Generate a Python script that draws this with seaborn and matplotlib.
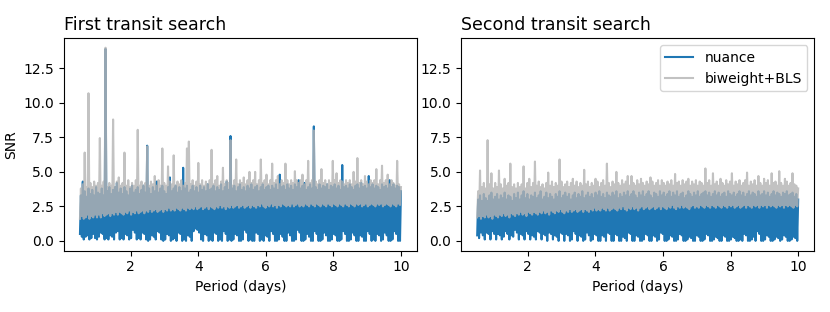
import numpy as np
import matplotlib
matplotlib.use("Agg")
import matplotlib.pyplot as plt
import seaborn as sns

# Period grid of the search (days): 170 trough/peak pairs per curve
periods = np.linspace(0.5, 10, 340)

# First transit search - nuance SNR (troughs and peaks)
nuance_1_low = [0.5, 0.3, 0.1, 0.3, 0.4, 0.1, 0.2, 0.5, 0.2, 0.1,
                0.3, 0.6, 0.5, 0.1, 0.2, 0.1, 0.4, 0.3, 0.1, 0.6,
                0.7, 0.1, 0.2, 0.1, 0.5, 0.4, 0.1, 0.2, 0.8, 0.6,
                0.1, 0.2, 0.1, 0.6, 0.5, 0.1, 0.0, 0.1, 0.4, 0.3,
                0.1, 0.7, 0.6, 0.1, 0.0, 0.1, 0.5, 0.4, 0.0, 0.1,
                0.2, 0.0, 0.6, 0.5, 0.0, 0.1, 0.0, 0.4, 0.3, 0.0,
                0.7, 0.9, 0.8, 0.6, 0.1, 0.0, 0.5, 0.4, 0.0, 0.1,
                0.0, 0.6, 0.5, 0.0, 0.1, 0.0, 0.7, 0.5, 0.0, 0.1,
                0.0, 0.1, 0.5, 0.4, 0.0, 0.0, 0.1, 0.8, 0.6, 0.0,
                0.1, 0.0, 0.0, 0.6, 0.5, 0.0, 0.1, 0.0, 0.4, 0.3,
                0.0, 0.7, 0.5, 0.0, 0.0, 0.1, 0.5, 0.3, 0.0, 0.0,
                0.6, 0.4, 0.0, 0.0, 0.1, 0.8, 0.6, 0.0, 0.0, 0.1,
                0.5, 0.3, 0.0, 0.0, 0.7, 0.5, 0.0, 0.0, 0.1, 0.6,
                0.4, 0.0, 0.0, 0.1, 0.5, 0.4, 0.0, 0.0, 0.1, 0.7,
                0.5, 0.0, 0.0, 0.1, 0.6, 0.4, 0.0, 0.0, 0.4, 0.3,
                0.0, 0.0, 0.7, 0.5, 0.0, 0.1, 0.0, 0.5, 0.4, 0.0,
                0.1, 0.6, 0.4, 0.0, 0.0, 0.1, 0.7, 0.5, 0.0, 0.0]
nuance_1_high = [3.3, 4.3, 3.6, 3.2, 3.8, 3.4, 3.7, 3.3, 3.9, 3.5,
                 3.4, 3.8, 3.3, 13.9, 3.6, 3.9, 3.4, 3.7, 3.9, 4.2,
                 3.5, 3.8, 3.4, 3.9, 3.6, 3.3, 3.8, 4.0, 3.5, 3.7,
                 3.9, 3.4, 3.7, 4.0, 3.5, 6.9, 3.8, 3.4, 3.9, 3.6,
                 4.3, 3.5, 3.8, 4.0, 3.6, 3.4, 3.9, 4.6, 3.6, 3.8,
                 4.0, 3.5, 3.9, 3.6, 5.3, 3.8, 4.0, 3.5, 3.7, 4.0,
                 3.6, 3.9, 3.5, 4.0, 3.7, 3.9, 3.6, 4.1, 3.7, 3.8,
                 4.0, 3.6, 3.9, 3.7, 4.1, 3.6, 3.9, 4.3, 3.7, 7.6,
                 3.8, 4.0, 3.6, 3.9, 4.1, 3.7, 3.9, 3.6, 4.0, 3.8,
                 4.1, 3.7, 3.9, 4.0, 3.6, 3.9, 4.1, 3.7, 3.9, 4.0,
                 3.7, 4.0, 3.8, 4.1, 3.7, 4.8, 3.9, 4.0, 3.7, 4.1,
                 3.8, 4.0, 3.7, 4.1, 3.9, 4.4, 3.8, 4.0, 4.2, 3.7,
                 3.9, 4.1, 3.8, 8.3, 3.9, 3.7, 4.1, 3.8, 4.0, 3.9,
                 4.1, 3.7, 4.0, 3.9, 4.1, 3.8, 4.0, 3.7, 5.5, 3.9,
                 4.0, 3.8, 4.1, 3.9, 3.7, 4.0, 4.1, 3.8, 4.2, 3.9,
                 4.0, 3.8, 4.7, 3.9, 4.1, 3.8, 4.0, 3.9, 3.7, 4.1,
                 3.9, 4.0, 3.8, 4.4, 3.9, 4.1, 3.8, 4.0, 3.9, 3.6]

# First transit search - biweight+BLS SNR
bls_1_low = [1.6, 1.8, 1.6, 1.7, 1.9, 1.6, 1.8, 1.7, 1.9, 1.7,
             1.9, 1.7, 2.0, 1.8, 1.9, 2.0, 1.8, 2.0, 1.9, 2.1,
             1.9, 2.1, 2.0, 1.9, 2.1, 2.0, 2.2, 1.9, 2.1, 2.0,
             2.2, 2.0, 2.1, 2.2, 2.0, 2.2, 2.1, 2.3, 2.1, 2.2,
             2.3, 2.1, 2.2, 2.3, 2.1, 2.3, 2.2, 2.4, 2.2, 2.3,
             2.2, 2.4, 2.3, 2.2, 2.4, 2.3, 2.2, 2.4, 2.3, 2.4,
             2.3, 2.5, 2.3, 2.4, 2.5, 2.3, 2.4, 2.5, 2.3, 2.5,
             2.4, 2.3, 2.5, 2.4, 2.6, 2.4, 2.5, 2.3, 2.5, 2.4,
             2.6, 2.4, 2.5, 2.6, 2.4, 2.5, 2.6, 2.4, 2.5, 2.6,
             2.4, 2.6, 2.5, 2.4, 2.6, 2.5, 2.7, 2.5, 2.4, 2.6,
             2.5, 2.7, 2.5, 2.6, 2.4, 2.6, 2.5, 2.7, 2.6, 2.5,
             2.6, 2.5, 2.7, 2.5, 2.6, 2.7, 2.5, 2.6, 2.5, 2.7,
             2.6, 2.5, 2.7, 2.6, 2.5, 2.7, 2.6, 2.5, 2.7, 2.6,
             2.5, 2.7, 2.6, 2.5, 2.7, 2.6, 2.5, 2.7, 2.6, 2.5,
             2.7, 2.6, 2.5, 2.7, 2.6, 2.5, 2.7, 2.6, 2.7, 2.5,
             2.6, 2.7, 2.5, 2.6, 2.7, 2.6, 2.5, 2.7, 2.6, 2.7,
             2.5, 2.6, 2.7, 2.6, 2.5, 2.7, 2.6, 2.5, 2.7, 2.6]
bls_1_high = [3.8, 4.1, 6.4, 3.9, 10.7, 4.2, 3.9, 4.3, 4.0, 4.2,
              7.45, 4.0, 4.3, 14.0, 3.9, 4.2, 4.0, 8.8, 3.9, 4.3,
              4.6, 4.0, 4.2, 6.4, 4.0, 4.4, 3.9, 4.2, 4.0, 4.4,
              8.05, 4.0, 4.3, 4.0, 4.2, 6.85, 4.0, 4.3, 4.1, 4.7,
              4.0, 4.4, 4.0, 6.7, 4.2, 4.0, 5.4, 4.3, 4.1, 6.2,
              4.0, 4.3, 4.1, 4.4, 4.0, 4.2, 6.7, 7.2, 4.1, 4.4,
              4.0, 4.3, 5.65, 4.1, 4.4, 4.0, 4.3, 4.1, 4.4, 6.6,
              4.1, 4.4, 4.7, 4.0, 4.3, 5.3, 4.1, 4.4, 4.2, 7.3,
              4.0, 4.4, 5.9, 4.1, 4.4, 4.2, 4.6, 4.1, 4.4, 5.0,
              4.2, 4.4, 5.0, 4.1, 4.4, 5.9, 4.2, 4.4, 4.8, 4.1,
              4.4, 5.6, 4.2, 4.4, 4.7, 4.1, 4.4, 4.2, 5.6, 4.4,
              4.1, 4.4, 4.2, 5.05, 4.4, 4.2, 4.4, 4.8, 4.1, 4.4,
              5.8, 4.2, 4.4, 8.0, 4.3, 4.1, 4.4, 5.2, 4.2, 4.4,
              4.1, 4.4, 4.2, 5.8, 4.4, 4.9, 4.2, 4.4, 4.3, 4.1,
              4.4, 4.2, 4.4, 4.1, 5.0, 4.3, 6.0, 4.2, 4.4, 4.1,
              4.7, 4.3, 4.1, 4.4, 4.2, 4.4, 5.2, 4.1, 4.4, 5.45,
              4.2, 4.4, 4.8, 4.1, 4.4, 4.2, 4.0, 5.8, 4.1, 3.9]

# Second transit search - nuance SNR
nuance_2_low = [0.4, 0.2, 0.6, 0.4, 0.1, 0.6, 0.5, 0.1, 0.7, 0.5,
                0.1, 0.5, 0.4, 0.1, 0.3, 0.7, 0.5, 0.1, 0.4, 0.3,
                0.8, 0.6, 0.1, 0.5, 0.4, 0.1, 0.7, 0.5, 0.1, 0.4,
                0.3, 0.1, 0.7, 0.6, 0.1, 0.5, 0.4, 0.0, 0.6, 0.5,
                0.1, 0.4, 0.3, 0.0, 0.6, 0.5, 0.0, 0.5, 0.4, 0.0,
                0.1, 0.7, 0.5, 0.0, 0.4, 0.3, 0.0, 0.1, 0.6, 0.4,
                0.0, 0.1, 0.5, 0.4, 0.0, 0.0, 0.4, 0.3, 0.0, 0.6,
                0.5, 0.0, 0.0, 0.5, 0.4, 0.0, 0.0, 0.3, 0.2, 0.0,
                0.6, 0.5, 0.0, 0.0, 0.4, 0.3, 0.0, 0.0, 0.1, 0.5,
                0.4, 0.0, 0.0, 0.4, 0.3, 0.0, 0.1, 0.6, 0.5, 0.0,
                0.0, 0.1, 0.4, 0.3, 0.0, 0.0, 0.1, 0.5, 0.4, 0.0,
                0.0, 0.1, 0.3, 0.2, 0.0, 0.0, 0.4, 0.3, 0.0, 0.0,
                0.1, 0.5, 0.4, 0.0, 0.0, 0.1, 0.3, 0.2, 0.0, 0.0,
                0.4, 0.3, 0.0, 0.0, 0.1, 0.3, 0.2, 0.0, 0.0, 0.1,
                0.0, 0.5, 0.4, 0.0, 0.0, 0.1, 0.3, 0.0, 0.7, 0.5,
                0.0, 0.0, 0.1, 0.4, 0.3, 0.0, 0.0, 0.1, 0.3, 0.2,
                0.0, 0.1, 0.4, 0.3, 0.0, 0.0, 0.1, 0.3, 0.2, 0.0]
nuance_2_high = [3.0, 3.3, 2.9, 3.4, 3.1, 2.9, 3.3, 3.5, 3.0, 3.2,
                 3.4, 3.0, 3.3, 3.1, 3.5, 3.0, 3.3, 3.2, 2.9, 3.4,
                 3.1, 3.5, 3.0, 3.3, 3.6, 3.1, 3.4, 3.0, 3.3, 3.2,
                 3.5, 3.1, 3.3, 3.6, 3.0, 3.2, 3.5, 3.1, 3.4, 3.2,
                 3.0, 3.4, 3.2, 3.6, 3.1, 3.3, 3.5, 3.2, 3.4, 3.0,
                 3.3, 3.5, 3.1, 3.4, 3.2, 3.6, 3.1, 3.3, 3.5, 3.2,
                 3.4, 3.1, 3.5, 3.3, 3.6, 3.2, 3.4, 3.1, 3.5, 3.3,
                 3.2, 3.5, 3.3, 3.6, 3.1, 3.4, 3.2, 3.5, 3.3, 3.6,
                 3.2, 3.4, 3.6, 3.3, 3.1, 3.5, 3.3, 3.6, 3.2, 3.4,
                 3.6, 3.3, 3.1, 3.5, 3.4, 3.2, 3.6, 3.3, 3.5, 3.2,
                 3.4, 3.6, 3.2, 3.5, 3.3, 3.6, 3.2, 3.4, 3.5, 3.1,
                 3.3, 3.6, 3.4, 3.2, 3.5, 3.3, 3.6, 3.2, 3.4, 3.5,
                 3.6, 3.3, 3.5, 3.2, 3.4, 3.6, 3.3, 3.5, 3.2, 3.4,
                 3.5, 3.2, 3.6, 3.4, 3.3, 3.5, 3.2, 3.4, 3.6, 3.3,
                 3.5, 3.2, 3.4, 3.6, 3.3, 3.5, 3.4, 3.2, 3.6, 3.3,
                 3.4, 3.6, 3.3, 3.5, 3.2, 3.4, 3.6, 3.3, 3.5, 3.4,
                 3.2, 3.5, 3.4, 3.6, 3.3, 3.4, 3.5, 3.2, 3.4, 3.0]

# Second transit search - biweight+BLS SNR
bls_2_low = [1.7, 1.8, 1.6, 1.8, 1.7, 1.9, 1.7, 1.8, 1.6, 1.9,
             1.8, 1.7, 1.9, 1.8, 2.0, 1.8, 1.9, 1.7, 2.0, 1.9,
             1.8, 2.0, 1.9, 2.1, 1.9, 2.0, 1.8, 2.1, 2.0, 1.9,
             2.1, 2.0, 1.9, 2.1, 2.0, 2.2, 2.0, 2.1, 1.9, 2.2,
             2.1, 2.0, 2.2, 2.1, 2.3, 2.1, 2.0, 2.2, 2.1, 2.3,
             2.1, 2.2, 2.3, 2.1, 2.2, 2.3, 2.1, 2.3, 2.2, 2.1,
             2.3, 2.2, 2.4, 2.2, 2.3, 2.2, 2.4, 2.3, 2.2, 2.4,
             2.2, 2.3, 2.4, 2.3, 2.2, 2.4, 2.3, 2.5, 2.3, 2.2,
             2.4, 2.3, 2.5, 2.3, 2.4, 2.2, 2.4, 2.5, 2.3, 2.4,
             2.5, 2.3, 2.4, 2.5, 2.3, 2.4, 2.5, 2.3, 2.5, 2.4,
             2.3, 2.5, 2.4, 2.6, 2.4, 2.3, 2.5, 2.4, 2.6, 2.4,
             2.5, 2.4, 2.3, 2.5, 2.6, 2.4, 2.5, 2.4, 2.6, 2.5,
             2.4, 2.6, 2.5, 2.4, 2.6, 2.5, 2.4, 2.6, 2.5, 2.4,
             2.6, 2.5, 2.4, 2.6, 2.5, 2.6, 2.4, 2.5, 2.6, 2.4,
             2.5, 2.6, 2.4, 2.6, 2.5, 2.4, 2.6, 2.5, 2.6, 2.4,
             2.6, 2.5, 2.6, 2.4, 2.6, 2.5, 2.6, 2.5, 2.4, 2.6,
             2.5, 2.6, 2.4, 2.6, 2.5, 2.6, 2.5, 2.4, 2.6, 2.5]
bls_2_high = [3.6, 5.1, 3.9, 4.2, 3.8, 7.3, 4.1, 4.9, 3.8, 4.2,
              3.9, 5.1, 4.1, 3.8, 4.5, 4.0, 4.2, 5.6, 3.9, 4.1,
              3.8, 4.2, 3.9, 4.1, 5.4, 3.8, 4.2, 4.5, 3.9, 4.2,
              5.75, 4.0, 4.3, 3.9, 4.1, 3.8, 4.2, 4.95, 4.0, 4.3,
              3.9, 4.2, 4.0, 5.9, 4.3, 3.9, 4.1, 4.3, 3.9, 4.2,
              4.5, 4.0, 4.3, 3.9, 4.2, 4.0, 5.15, 4.1, 4.3, 3.9,
              4.2, 4.0, 4.5, 4.3, 3.9, 4.2, 4.4, 4.0, 5.6, 4.2,
              3.9, 4.3, 4.1, 5.0, 4.2, 4.0, 4.4, 4.1, 4.3, 4.7,
              4.0, 4.7, 4.2, 4.0, 4.4, 4.1, 4.5, 4.2, 4.0, 4.3,
              4.1, 4.6, 4.3, 4.0, 4.2, 4.4, 4.0, 4.4, 4.2, 4.0,
              4.3, 4.1, 4.4, 4.0, 4.85, 4.2, 4.3, 4.0, 4.4, 4.1,
              4.3, 4.5, 4.0, 4.3, 4.1, 4.4, 4.0, 4.3, 4.2, 4.0,
              5.25, 4.2, 4.4, 4.0, 4.9, 4.1, 4.3, 4.0, 4.5, 4.2,
              4.0, 4.4, 4.1, 4.3, 4.9, 4.0, 4.3, 4.1, 4.4, 4.0,
              4.2, 4.4, 4.95, 4.0, 4.3, 4.1, 4.4, 4.0, 4.7, 4.2,
              4.0, 4.5, 4.2, 4.4, 4.0, 4.9, 4.2, 4.3, 4.0, 5.05,
              4.2, 4.0, 4.5, 4.3, 4.0, 4.2, 4.9, 4.1, 4.0, 3.8]

titles = ["First transit search", "Second transit search"]
nuance_color = "#1f77b4"
bls_color = (0.7, 0.7, 0.7)


def interleave(low, high):
    # troughs and peaks alternate along the period grid
    return np.column_stack([low, high]).ravel()


panels = [
    (interleave(nuance_1_low, nuance_1_high), interleave(bls_1_low, bls_1_high)),
    (interleave(nuance_2_low, nuance_2_high), interleave(bls_2_low, bls_2_high)),
]

fig, axes = plt.subplots(1, 2, figsize=(8.3, 3.12), dpi=100, sharey=True)
fig.subplots_adjust(left=0.077, right=0.981, bottom=0.197, top=0.878, wspace=0.125)

for ax, title, (snr_nuance, snr_bls) in zip(axes, titles, panels):
    sns.lineplot(x=periods, y=snr_nuance, ax=ax, color=nuance_color,
                 estimator=None, label="nuance", lw=1.5)
    sns.lineplot(x=periods, y=snr_bls, ax=ax, color=bls_color, alpha=0.8,
                 estimator=None, label="biweight+BLS", lw=1.5)
    ax.set_title(title, loc="left", fontsize=12.5)
    ax.set_xlabel("Period (days)")
    ax.set_xticks([2, 4, 6, 8, 10])
    ax.tick_params(labelleft=True)

axes[0].set_ylabel("SNR")
axes[0].get_legend().remove()
axes[1].legend(loc="upper right")

plt.savefig("out.png", dpi=100)
